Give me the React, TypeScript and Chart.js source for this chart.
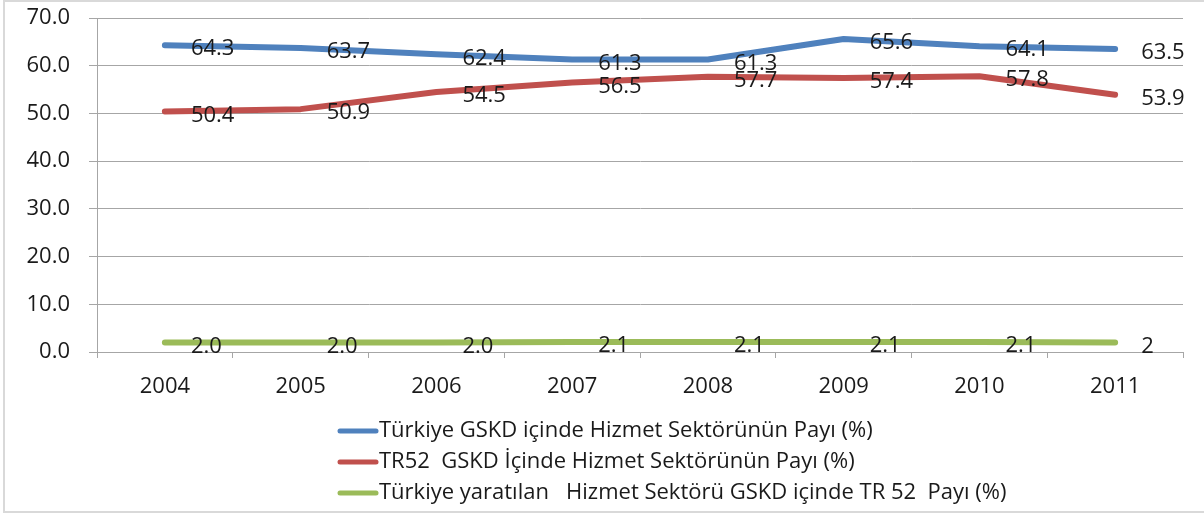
import React, { useEffect, useRef } from 'react';
import { Chart, registerables } from 'chart.js';

Chart.register(...registerables);

const years = ['2004', '2005', '2006', '2007', '2008', '2009', '2010', '2011'];
const turkiyeServiceShare = [64.3, 63.7, 62.4, 61.3, 61.3, 65.6, 64.1, 63.5];
const tr52ServiceShare = [50.4, 50.9, 54.5, 56.5, 57.7, 57.4, 57.8, 53.9];
const tr52InTurkiyeShare = [2.0, 2.0, 2.0, 2.1, 2.1, 2.1, 2.1, 2.0];
const turkiyeServiceLabels = ['64.3', '63.7', '62.4', '61.3', '61.3', '65.6', '64.1', '63.5'];
const tr52ServiceLabels = ['50.4', '50.9', '54.5', '56.5', '57.7', '57.4', '57.8', '53.9'];
const tr52InTurkiyeLabels = ['2.0', '2.0', '2.0', '2.1', '2.1', '2.1', '2.1', '2'];
const seriesNames = [
  'Türkiye GSKD içinde Hizmet Sektörünün Payı (%)',
  'TR52  GSKD İçinde Hizmet Sektörünün Payı (%)',
  'Türkiye yaratılan   Hizmet Sektörü GSKD içinde TR 52  Payı (%)',
];
const seriesColors = ['#4F81BD', '#C0504D', '#9BBB59'];
const pointLabels = [turkiyeServiceLabels, tr52ServiceLabels, tr52InTurkiyeLabels];

const FONT_FAMILY = '"Open Sans", Lato, sans-serif';
const TEXT_COLOR = '#1a1a1a';
const GRID_COLOR = '#a6a6a6';

const dataLabelPlugin = {
  id: 'dataLabels',
  afterDatasetsDraw(chart: any) {
    const ctx = chart.ctx;
    ctx.save();
    ctx.font = `22px ${FONT_FAMILY}`;
    ctx.fillStyle = TEXT_COLOR;
    ctx.textAlign = 'left';
    ctx.textBaseline = 'middle';
    chart.data.datasets.forEach((ds: any, i: number) => {
      const meta = chart.getDatasetMeta(i);
      meta.data.forEach((pt: any, j: number) => {
        ctx.fillText(pointLabels[i][j], pt.x + 26, pt.y + 4);
      });
    });
    ctx.restore();
  },
};

const customLegendPlugin = {
  id: 'customLegend',
  afterDraw(chart: any) {
    const ctx = chart.ctx;
    ctx.save();
    ctx.font = `22px ${FONT_FAMILY}`;
    ctx.fillStyle = TEXT_COLOR;
    ctx.textAlign = 'left';
    ctx.textBaseline = 'middle';
    const rows = [431, 462, 493];
    seriesNames.forEach((name, i) => {
      const y = rows[i];
      ctx.strokeStyle = seriesColors[i];
      ctx.lineWidth = 5;
      ctx.lineCap = 'round';
      ctx.beginPath();
      ctx.moveTo(340, y);
      ctx.lineTo(376, y);
      ctx.stroke();
      ctx.fillText(name, 379, y);
    });
    ctx.restore();
  },
};

export default function App() {
  const ref = useRef<HTMLCanvasElement>(null);
  useEffect(() => {
    document.body.style.margin = '0';
    document.body.style.overflow = 'hidden';
    const values = [turkiyeServiceShare, tr52ServiceShare, tr52InTurkiyeShare];
    const chart = new Chart(ref.current as HTMLCanvasElement, {
      type: 'line',
      data: {
        labels: years,
        datasets: values.map((v, i) => ({
          label: seriesNames[i],
          data: v,
          borderColor: seriesColors[i],
          backgroundColor: seriesColors[i],
          borderWidth: 6,
          pointRadius: 0,
          tension: 0,
          borderCapStyle: 'round',
          borderJoinStyle: 'round',
          fill: false,
        })),
      },
      options: {
        animation: false,
        responsive: false,
        layout: { padding: { left: 0, right: 21, top: 18, bottom: 0 } },
        plugins: {
          legend: { display: false },
          tooltip: { enabled: false },
        },
        scales: {
          x: {
            offset: true,
            grid: {
              offset: true,
              drawOnChartArea: false,
              drawTicks: true,
              tickLength: 6,
              color: GRID_COLOR,
            },
            border: { color: GRID_COLOR },
            ticks: {
              padding: 16,
              color: TEXT_COLOR,
              font: { family: FONT_FAMILY, size: 22 },
            },
            afterFit: (s: any) => {
              s.height = 164;
              s.paddingLeft = 0;
              s.paddingRight = 0;
            },
          },
          y: {
            min: 0,
            max: 70,
            ticks: {
              stepSize: 10,
              padding: 19,
              color: TEXT_COLOR,
              font: { family: FONT_FAMILY, size: 22 },
              callback: (v: any) => Number(v).toFixed(1),
            },
            grid: { tickLength: 8, color: GRID_COLOR },
            border: { color: GRID_COLOR },
            afterFit: (s: any) => {
              s.width = 97;
              s.paddingTop = 0;
              s.paddingBottom = 0;
            },
          },
        },
      },
      plugins: [dataLabelPlugin, customLegendPlugin],
    } as any);
    return () => chart.destroy();
  }, []);
  return (
    <div style={{ position: 'relative', width: 1204, height: 516 }}>
      <canvas ref={ref} width={1204} height={516} style={{ display: 'block' }} />
      <div
        style={{
          position: 'absolute',
          left: 3,
          top: 0,
          width: 1201,
          height: 513,
          boxSizing: 'border-box',
          borderLeft: '2px solid #d9d9d9',
          borderTop: '2px solid #d9d9d9',
          borderBottom: '2px solid #d9d9d9',
          pointerEvents: 'none',
        }}
      />
    </div>
  );
}
